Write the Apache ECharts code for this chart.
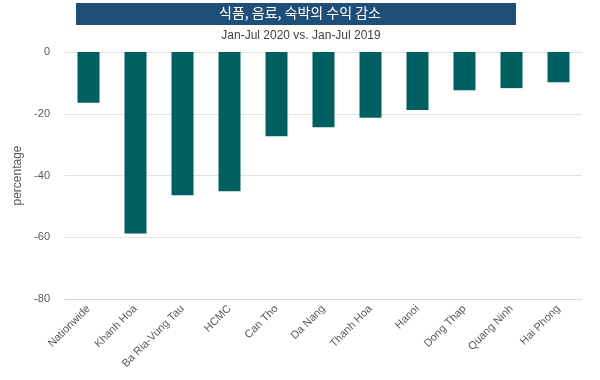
<!DOCTYPE html>
<html><head><meta charset="utf-8">
<script src="https://cdn.jsdelivr.net/npm/echarts@6/dist/echarts.min.js"></script>
<style>html,body{margin:0;padding:0;background:#fff}#c{width:600px;height:380px}</style>
</head><body><div id="c"></div>
<script>
const categories = ["Nationwide","Khanh Hoa","Ba Ria-Vung Tau","HCMC","Can Tho","Da Nang","Thanh Hoa","Hanoi","Dong Thap","Quang Ninh","Hai Phong"];
const values = [-16.4,-58.8,-46.4,-45.1,-27.3,-24.4,-21.3,-18.8,-12.4,-11.7,-9.8];
const titleText = "식품, 음료, 숙박의 수익 감소";
const subtitleText = "Jan-Jul 2020 vs. Jan-Jul 2019";
const yAxisName = "percentage";

const chart = echarts.init(document.getElementById('c'));
chart.setOption({
  animation:false,
  graphic:[
    {type:'rect',left:76,top:3,shape:{width:440,height:22},style:{fill:'#1f4e79'}},
    {type:'text',left:'center',top:6,style:{text:titleText,fill:'#fff',font:'14px "Noto Sans CJK KR", sans-serif',textAlign:'center'},x:-4},
  ],
  title:{text:subtitleText,left:296,top:25,textAlign:'center',textStyle:{fontFamily:'Liberation Sans, Arial, sans-serif',fontSize:12,fontWeight:'normal',color:'#404040'}},
  grid:{left:65,right:18,top:52,bottom:81},
  xAxis:{type:'category',data:categories,position:'bottom',
    axisLine:{onZero:false,lineStyle:{color:'#d9d9d9'}},axisTick:{show:false},
    axisLabel:{rotate:45,interval:0,color:'#595959',fontSize:11,fontFamily:'Liberation Sans, Arial, sans-serif',margin:8}},
  yAxis:{type:'value',min:-80,max:0,interval:20,name:yAxisName,nameLocation:'middle',nameGap:35,
    nameTextStyle:{color:'#595959',fontSize:12,fontFamily:'Liberation Sans, Arial, sans-serif'},
    axisLine:{show:false},axisTick:{show:false},
    axisLabel:{color:'#595959',fontSize:11,fontFamily:'Liberation Sans, Arial, sans-serif',margin:15},
    splitLine:{lineStyle:{color:'#e3e3e3'}}},
  series:[{type:'bar',data:values,barWidth:22,itemStyle:{color:'#005f60'}}]
});
</script></body></html>
